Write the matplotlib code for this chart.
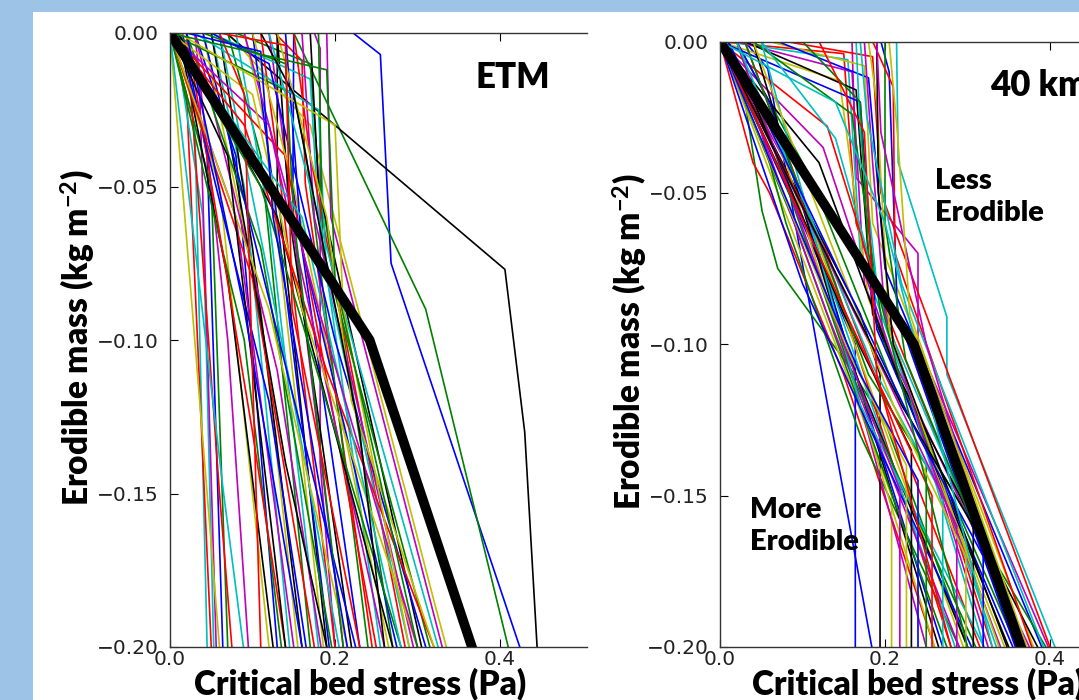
import matplotlib
matplotlib.use('Agg')
import matplotlib.pyplot as plt
from matplotlib.patches import Rectangle

plt.rcParams['mathtext.fontset'] = 'custom'
plt.rcParams['mathtext.rm'] = 'Lato:bold'
plt.rcParams['mathtext.it'] = 'Lato:bold'
plt.rcParams['mathtext.bf'] = 'Lato:bold'

# ---- data: each profile is a list of (stress, mass) points ----
# reference profile (thick black) for each panel
etm_ref = [(0.0, 0.0), (0.242, -0.10), (0.366, -0.20)]
km40_ref = [(0.0, 0.0), (0.235, -0.10), (0.365, -0.20)]

etm_lines = [
    [(0.222, 0), (0.255, -0.007), (0.268, -0.075), (0.424, -0.2)],
    [(0.150, 0), (0.310, -0.090), (0.410, -0.2)],
    [(0.127, 0), (0.160, -0.009), (0.164, -0.049), (0.245, -0.2)],
    [(0.000, 0), (0.030, -0.030), (0.045, -0.2)],
    [(0.175, 0), (0.182, -0.005), (0.182, -0.140), (0.200, -0.2)],
    [(0.070, 0), (0.170, -0.030), (0.320, -0.185), (0.335, -0.2)],
    [(0.068, 0), (0.406, -0.077), (0.430, -0.130), (0.445, -0.2)],
    [(0.150, 0), (0.149, -0.050), (0.230, -0.2)],
    [(0.080, 0), (0.170, -0.010), (0.180, -0.047), (0.270, -0.2)],
    [(0.000, 0), (0.020, -0.020), (0.050, -0.2)],
    [(0.005, 0), (0.040, -0.060), (0.053, -0.2)],
    [(0.010, 0), (0.035, -0.010), (0.056, -0.2)],
    [(0.000, 0), (0.060, -0.2)],
    [(0.130, 0), (0.130, -0.050), (0.150, -0.100), (0.190, -0.2)],
    [(0.015, 0), (0.045, -0.040), (0.064, -0.2)],
    [(0.000, 0), (0.050, -0.050), (0.070, -0.2)],
    [(0.020, 0), (0.060, -0.150), (0.075, -0.2)],
    [(0.000, 0), (0.065, -0.150), (0.089, -0.2)],
    [(0.030, 0), (0.070, -0.100), (0.095, -0.2)],
    [(0.000, 0), (0.060, -0.050), (0.120, -0.2)],
    [(0.010, 0), (0.070, -0.080), (0.125, -0.2)],
    [(0.030, 0), (0.080, -0.040), (0.130, -0.2)],
    [(0.000, 0), (0.090, -0.100), (0.135, -0.2)],
    [(0.020, 0), (0.100, -0.130), (0.140, -0.2)],
    [(0.050, 0), (0.090, -0.050), (0.145, -0.2)],
    [(0.000, 0), (0.080, -0.060), (0.150, -0.2)],
    [(0.040, 0), (0.110, -0.090), (0.155, -0.2)],
    [(0.060, 0), (0.100, -0.070), (0.160, -0.2)],
    [(0.010, 0), (0.120, -0.120), (0.165, -0.2)],
    [(0.070, 0), (0.110, -0.040), (0.170, -0.2)],
    [(0.000, 0), (0.100, -0.080), (0.175, -0.2)],
    [(0.080, 0), (0.120, -0.060), (0.180, -0.2)],
    [(0.030, 0), (0.130, -0.110), (0.183, -0.2)],
    [(0.090, 0), (0.115, -0.030), (0.186, -0.2)],
    [(0.050, 0), (0.140, -0.140), (0.190, -0.2)],
    [(0.100, 0), (0.125, -0.050), (0.193, -0.2)],
    [(0.020, 0), (0.110, -0.070), (0.196, -0.2)],
    [(0.110, 0), (0.130, -0.040), (0.200, -0.2)],
    [(0.060, 0), (0.150, -0.120), (0.205, -0.2)],
    [(0.120, 0), (0.135, -0.030), (0.210, -0.2)],
    [(0.000, 0), (0.120, -0.090), (0.215, -0.2)],
    [(0.130, 0), (0.145, -0.060), (0.220, -0.2)],
    [(0.040, 0), (0.160, -0.130), (0.225, -0.2)],
    [(0.000, 0), (0.150, -0.020), (0.165, -0.040), (0.240, -0.2)],
    [(0.000, 0), (0.140, -0.040), (0.250, -0.2)],
    [(0.050, 0), (0.170, -0.015), (0.180, -0.060), (0.255, -0.2)],
    [(0.000, 0), (0.120, -0.030), (0.260, -0.2)],
    [(0.100, 0), (0.150, -0.050), (0.265, -0.2)],
    [(0.010, 0), (0.130, -0.060), (0.270, -0.2)],
    [(0.140, 0), (0.160, -0.070), (0.275, -0.2)],
    [(0.000, 0), (0.110, -0.050), (0.280, -0.2)],
    [(0.150, 0), (0.170, -0.040), (0.285, -0.2)],
    [(0.030, 0), (0.180, -0.025), (0.190, -0.080), (0.290, -0.2)],
    [(0.160, 0), (0.175, -0.060), (0.295, -0.2)],
    [(0.000, 0), (0.100, -0.020), (0.160, -0.090), (0.300, -0.2)],
    [(0.170, 0), (0.180, -0.050), (0.305, -0.2)],
    [(0.050, 0), (0.120, -0.010), (0.200, -0.100), (0.310, -0.2)],
    [(0.180, 0), (0.185, -0.070), (0.315, -0.2)],
    [(0.000, 0), (0.090, -0.030), (0.190, -0.110), (0.320, -0.2)],
    [(0.120, 0), (0.200, -0.080), (0.325, -0.2)],
    [(0.190, 0), (0.195, -0.060), (0.330, -0.2)],
    [(0.130, 0), (0.190, -0.060), (0.220, -0.120), (0.320, -0.2)],
    [(0.000, 0), (0.070, -0.040), (0.140, -0.2)],
    [(0.020, 0), (0.090, -0.090), (0.160, -0.2)],
    [(0.040, 0), (0.140, -0.010), (0.150, -0.060), (0.210, -0.2)],
    [(0.060, 0), (0.090, -0.020), (0.110, -0.2)],
    [(0.000, 0), (0.160, -0.060), (0.280, -0.2)],
    [(0.090, 0), (0.180, -0.090), (0.300, -0.2)],
    [(0.010, 0), (0.200, -0.030), (0.210, -0.090), (0.290, -0.2)],
    [(0.110, 0), (0.150, -0.020), (0.230, -0.130), (0.260, -0.2)],
    [(0.020, 0), (0.110, -0.006), (0.125, -0.060), (0.215, -0.2)],
    [(0.000, 0), (0.190, -0.012), (0.200, -0.080), (0.300, -0.2)],
    [(0.060, 0), (0.140, -0.004), (0.148, -0.090), (0.230, -0.2)],
]

km40_lines = [
    [(0.030, 0), (0.058, -0.009), (0.125, -0.112), (0.184, -0.2)],
    [(0.005, 0), (0.027, -0.014), (0.051, -0.056), (0.070, -0.075),
     (0.158, -0.108), (0.202, -0.127), (0.300, -0.2)],
    [(0.000, 0), (0.040, -0.040), (0.060, -0.050), (0.150, -0.110), (0.260, -0.2)],
    [(0.214, 0), (0.216, -0.040), (0.275, -0.091), (0.275, -0.110), (0.406, -0.2)],
    [(0.160, 0), (0.165, -0.045), (0.240, -0.070), (0.240, -0.100), (0.398, -0.2)],
    [(0.000, 0), (0.140, -0.100), (0.208, -0.150), (0.208, -0.2)],
    [(0.000, 0), (0.170, -0.090), (0.194, -0.110), (0.194, -0.2)],
    [(0.000, 0), (0.100, -0.060), (0.164, -0.100), (0.164, -0.2)],
    [(0.000, 0), (0.050, -0.030), (0.080, -0.060), (0.170, -0.130), (0.290, -0.2)],
    [(0.000, 0), (0.150, -0.004), (0.165, -0.060), (0.330, -0.2)],
    [(0.010, 0), (0.155, -0.006), (0.170, -0.070), (0.335, -0.2)],
    [(0.020, 0), (0.160, -0.010), (0.175, -0.080), (0.340, -0.2)],
    [(0.000, 0), (0.145, -0.013), (0.180, -0.085), (0.345, -0.2)],
    [(0.030, 0), (0.165, -0.016), (0.185, -0.090), (0.350, -0.2)],
    [(0.000, 0), (0.170, -0.020), (0.190, -0.095), (0.355, -0.2)],
    [(0.040, 0), (0.160, -0.024), (0.200, -0.100), (0.360, -0.2)],
    [(0.000, 0), (0.130, -0.028), (0.195, -0.085), (0.365, -0.2)],
    [(0.050, 0), (0.140, -0.032), (0.205, -0.095), (0.370, -0.2)],
    [(0.000, 0), (0.125, -0.035), (0.210, -0.105), (0.375, -0.2)],
    [(0.060, 0), (0.175, -0.008), (0.185, -0.060), (0.380, -0.2)],
    [(0.000, 0), (0.120, -0.040), (0.215, -0.110), (0.385, -0.2)],
    [(0.070, 0), (0.180, -0.012), (0.200, -0.075), (0.390, -0.2)],
    [(0.020, 0), (0.110, -0.045), (0.220, -0.120), (0.395, -0.2)],
    [(0.080, 0), (0.185, -0.005), (0.195, -0.050), (0.400, -0.2)],
    [(0.165, 0), (0.170, -0.030), (0.190, -0.080), (0.320, -0.2)],
    [(0.175, 0), (0.185, -0.040), (0.200, -0.090), (0.325, -0.2)],
    [(0.180, 0), (0.190, -0.020), (0.205, -0.095), (0.338, -0.2)],
    [(0.190, 0), (0.192, -0.050), (0.210, -0.100), (0.348, -0.2)],
    [(0.195, 0), (0.205, -0.010), (0.215, -0.090), (0.358, -0.2)],
    [(0.200, 0), (0.200, -0.060), (0.225, -0.105), (0.368, -0.2)],
    [(0.185, 0), (0.210, -0.015), (0.212, -0.070), (0.378, -0.2)],
    [(0.170, 0), (0.178, -0.025), (0.220, -0.080), (0.392, -0.2)],
    [(0.000, 0), (0.100, -0.050), (0.250, -0.2)],
    [(0.010, 0), (0.080, -0.040), (0.260, -0.2)],
    [(0.000, 0), (0.120, -0.070), (0.265, -0.2)],
    [(0.020, 0), (0.060, -0.020), (0.270, -0.2)],
    [(0.000, 0), (0.090, -0.060), (0.275, -0.2)],
    [(0.030, 0), (0.140, -0.080), (0.280, -0.2)],
    [(0.000, 0), (0.070, -0.030), (0.285, -0.2)],
    [(0.010, 0), (0.130, -0.090), (0.290, -0.2)],
    [(0.000, 0), (0.110, -0.060), (0.295, -0.2)],
    [(0.040, 0), (0.150, -0.100), (0.300, -0.2)],
    [(0.000, 0), (0.100, -0.080), (0.305, -0.2)],
    [(0.020, 0), (0.160, -0.110), (0.310, -0.2)],
    [(0.000, 0), (0.130, -0.070), (0.315, -0.2)],
    [(0.050, 0), (0.170, -0.120), (0.320, -0.2)],
    [(0.020, 0), (0.150, -0.100), (0.218, -0.148), (0.218, -0.2)],
    [(0.000, 0), (0.160, -0.105), (0.226, -0.140), (0.226, -0.2)],
    [(0.010, 0), (0.150, -0.090), (0.232, -0.135), (0.232, -0.2)],
    [(0.000, 0), (0.170, -0.110), (0.240, -0.145), (0.240, -0.2)],
    [(0.030, 0), (0.180, -0.110), (0.250, -0.140), (0.250, -0.2)],
    [(0.000, 0), (0.170, -0.100), (0.257, -0.150), (0.257, -0.2)],
    [(0.020, 0), (0.190, -0.110), (0.270, -0.150), (0.270, -0.2)],
    [(0.000, 0), (0.200, -0.110), (0.287, -0.160), (0.287, -0.2)],
    [(0.040, 0), (0.210, -0.120), (0.298, -0.170), (0.298, -0.2)],
    [(0.000, 0), (0.220, -0.120), (0.307, -0.160), (0.307, -0.2)],
    [(0.010, 0), (0.240, -0.130), (0.319, -0.170), (0.319, -0.2)],
    [(0.100, 0), (0.170, -0.020), (0.180, -0.070), (0.300, -0.2)],
    [(0.120, 0), (0.175, -0.030), (0.190, -0.110), (0.280, -0.2)],
    [(0.000, 0), (0.140, -0.020), (0.200, -0.060), (0.330, -0.2)],
    [(0.190, 0), (0.195, -0.030), (0.250, -0.100), (0.360, -0.2)],
    [(0.205, 0), (0.215, -0.030), (0.230, -0.090), (0.372, -0.2)],
]

etm_title = 'ETM'
km40_title = '40 km'
xlabel = 'Critical bed stress (Pa)'
ylabel = 'Erodible mass (kg m$^{-2}$)'
yticks = [0.0, -0.05, -0.10, -0.15, -0.20]
xticks = [0.0, 0.2, 0.4]

classic = [(0, 0, 1), (0, 0.5, 0), (1, 0, 0), (0, 0.75, 0.75),
           (0.75, 0, 0.75), (0.75, 0.75, 0), (0, 0, 0)]

W, H = 1079, 700
fig = plt.figure(figsize=(W / 100, H / 100), dpi=100, facecolor='#9dc3e6')
fig.patches.append(Rectangle((33 / W, 0), 1, (H - 12) / H, transform=fig.transFigure,
                             facecolor='white', edgecolor='none', zorder=-5))

ax1 = fig.add_axes([170 / W, 53 / H, 417 / W, 614 / H])
ax2 = fig.add_axes([720 / W, 53 / H, 495 / W, 605.5 / H])

for ax, lines, ref, xmax in [(ax1, etm_lines, etm_ref, 0.5055), (ax2, km40_lines, km40_ref, 0.6)]:
    ax.set_zorder(1)
    ax.patch.set_alpha(0)
    ax.set_prop_cycle(color=classic)
    for pts in lines:
        xs = [p[0] for p in pts]
        ys = [p[1] for p in pts]
        ax.plot(xs, ys, lw=1.2)
    ax.plot([p[0] for p in ref], [p[1] for p in ref], color='k', lw=7, solid_joinstyle='miter')
    ax.set_xlim(0, xmax)
    ax.set_ylim(-0.2, 0.0)
    ax.set_xticks(xticks)
    ax.set_yticks(yticks)
    ax.set_yticklabels(['%.2f' % v if v == 0 else '\u2212%.2f' % -v for v in yticks])
    ax.tick_params(direction='in', length=5.5, width=0.8, labelsize=14.5,
                   labelcolor='#222222', top=True, right=False)
    ax.tick_params(axis='y', pad=8)
    ax.tick_params(axis='x', pad=2)
    for s in ax.spines.values():
        s.set_linewidth(1.0)
        s.set_color('#333333')
    ax.spines['right'].set_visible(False)

lab = dict(family='Lato', weight='heavy', fontsize=24, color='black', zorder=5)
box = dict(facecolor='white', edgecolor='none', pad=1)
fig.text(360 / W, 16 / H, xlabel, ha='center', va='center', bbox=box, **lab)
fig.text(918 / W, 16 / H, xlabel, ha='center', va='center', bbox=box, **lab)
fig.text(78 / W, 1 - 338 / H, ylabel, ha='center', va='center', rotation=90, bbox=box, **lab)
fig.text(630 / W, 1 - 342 / H, ylabel, ha='center', va='center', rotation=90, bbox=box, **lab)

txt = dict(family='Lato', weight='heavy', color='black', zorder=5)
fig.text(513 / W, 1 - 77 / H, etm_title, ha='center', va='center', fontsize=25, **txt)
fig.text(990 / W, 1 - 85 / H, km40_title, ha='left', va='center', fontsize=25, **txt)
fig.text(935 / W, 1 - 197 / H, 'Less\nErodible', ha='left', va='center',
         fontsize=21, linespacing=1.3, **txt)
fig.text(750 / W, 1 - 526 / H, 'More\nErodible', ha='left', va='center',
         fontsize=21, linespacing=1.3, **txt)

fig.savefig('out.png', dpi=100, facecolor=fig.get_facecolor())
